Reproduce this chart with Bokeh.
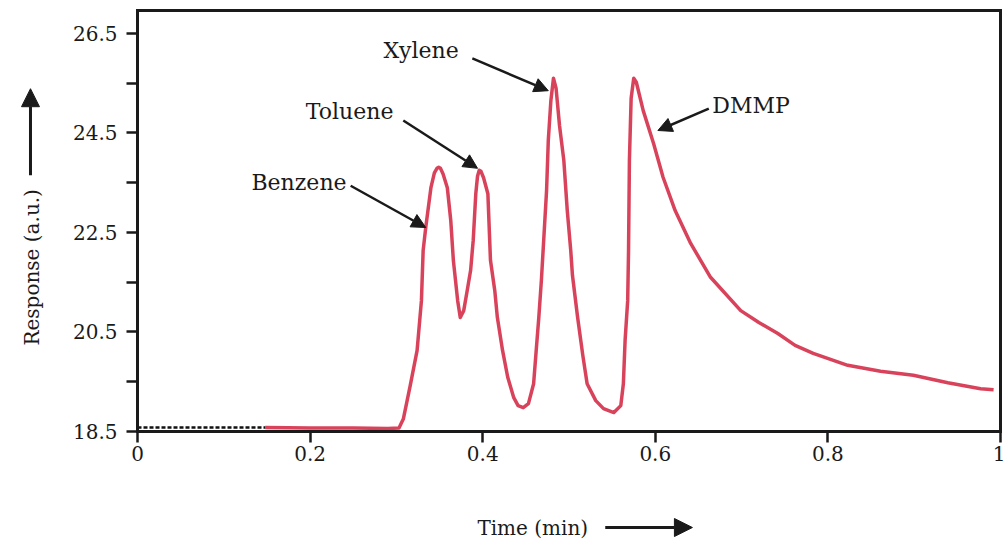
from math import pi
from bokeh.plotting import figure
from bokeh.models import Range1d, FixedTicker, Label, Arrow, NormalHead, LinearAxis
from bokeh.embed import file_html
from bokeh.resources import INLINE

# ---- data ----
# noisy baseline recorded before the red trace starts (drawn black, dashed)
base_time = [0.000, 0.040, 0.080, 0.120, 0.148]
base_resp = [18.58, 18.58, 18.58, 18.58, 18.58]

time_min = [0.148, 0.200, 0.250, 0.290, 0.303, 0.308, 0.316, 0.324, 0.329, 0.331, 0.334,
            0.340, 0.344, 0.347, 0.349, 0.351, 0.354, 0.359, 0.363, 0.366, 0.371, 0.374,
            0.378, 0.382, 0.386, 0.389, 0.392, 0.394, 0.396, 0.398, 0.401, 0.406,
            0.409, 0.414, 0.417, 0.423, 0.429, 0.436, 0.441, 0.447, 0.453, 0.459,
            0.462, 0.465, 0.468, 0.470, 0.474, 0.476, 0.479, 0.482, 0.485, 0.489,
            0.494, 0.498, 0.502, 0.504, 0.510, 0.516, 0.521, 0.531, 0.540, 0.552,
            0.560, 0.563, 0.565, 0.568, 0.569, 0.570, 0.572, 0.575, 0.578, 0.586,
            0.598, 0.609, 0.623, 0.641, 0.664, 0.699, 0.720, 0.742, 0.762, 0.783,
            0.823, 0.861, 0.899, 0.939, 0.977, 0.992]
response = [18.58, 18.57, 18.57, 18.56, 18.57, 18.75, 19.42, 20.13, 21.13, 22.14, 22.60,
            23.40, 23.70, 23.79, 23.81, 23.79, 23.68, 23.40, 22.74, 21.94, 21.13, 20.79,
            20.93, 21.33, 21.74, 22.34, 23.28, 23.63, 23.75, 23.73, 23.60, 23.28,
            21.94, 21.33, 20.79, 20.13, 19.59, 19.18, 19.02, 18.98, 19.06, 19.46,
            20.13, 20.79, 21.54, 22.14, 23.34, 24.35, 25.15, 25.60, 25.40, 24.65,
            23.95, 22.94, 22.14, 21.64, 20.79, 20.03, 19.46, 19.12, 18.96, 18.88,
            19.02, 19.46, 20.33, 21.13, 22.14, 23.95, 25.20, 25.60, 25.52, 24.95,
            24.29, 23.61, 22.94, 22.28, 21.60, 20.93, 20.69, 20.47, 20.23, 20.07,
            19.83, 19.71, 19.63, 19.48, 19.36, 19.34]

x_ticks = [0, 0.2, 0.4, 0.6, 0.8, 1.0]
x_tick_labels = ["0", "0.2", "0.4", "0.6", "0.8", "1"]
y_ticks = [18.5, 20.5, 22.5, 24.5, 26.5]
y_tick_labels = ["18.5", "20.5", "22.5", "24.5", "26.5"]
y_minor_ticks = [19.5, 21.5, 23.5, 25.5]

peak_names = ["Benzene", "Toluene", "Xylene", "DMMP"]

X_MIN, X_MAX = 0.0, 1.0
Y_MIN, Y_MAX = 18.5, 26.96

FONT = "DejaVu Serif"
INK = "#1a1a1a"

# the frame spans the whole canvas; axes are drawn at fixed data locations
p = figure(width=1005, height=550, frame_width=1005, frame_height=550,
           min_border=0,
           x_range=Range1d(-0.15875, 1.00579), y_range=Range1d(16.108, 27.163),
           output_backend="svg", toolbar_location=None)

p.grid.visible = False
p.background_fill_color = "white"
p.border_fill_color = "white"
p.outline_line_color = None

p.xaxis.ticker = FixedTicker(ticks=x_ticks)
p.xaxis.major_label_overrides = dict(zip(x_ticks, x_tick_labels))
p.xaxis.fixed_location = Y_MIN
p.xaxis.bounds = (X_MIN, X_MAX)
p.yaxis.ticker = FixedTicker(ticks=y_ticks, minor_ticks=y_minor_ticks)
p.yaxis.major_label_overrides = dict(zip(y_ticks, y_tick_labels))
p.yaxis.fixed_location = X_MIN
p.yaxis.bounds = (Y_MIN, Y_MAX)

for ax in (p.xaxis, p.yaxis):
    ax.axis_line_width = 3
    ax.axis_line_color = INK
    ax.axis_line_cap = "square"
    ax.major_tick_line_color = INK
    ax.major_tick_line_width = 2.5
    ax.major_tick_out = 11
    ax.major_tick_in = 0
    ax.minor_tick_line_color = INK
    ax.minor_tick_line_width = 2.5
    ax.minor_tick_out = 11
    ax.minor_tick_in = 0
    ax.major_label_text_font = FONT
    ax.major_label_text_font_size = "20px"
    ax.major_label_text_color = INK
p.xaxis.minor_tick_line_color = None
p.xaxis.major_label_standoff = 4
p.yaxis.major_label_standoff = 9

# closing top and right sides of the box
top_axis = LinearAxis(fixed_location=Y_MAX, bounds=(X_MIN, X_MAX),
                      ticker=FixedTicker(ticks=[]), axis_line_width=3,
                      axis_line_color=INK, axis_line_cap="square",
                      major_tick_line_color=None, minor_tick_line_color=None,
                      major_label_text_color=None)
right_axis = LinearAxis(fixed_location=X_MAX, bounds=(Y_MIN, Y_MAX),
                        ticker=FixedTicker(ticks=[]), axis_line_width=3,
                        axis_line_color=INK, axis_line_cap="square",
                        major_tick_line_color=None, minor_tick_line_color=None,
                        major_label_text_color=None)
p.add_layout(top_axis, "above")
p.add_layout(right_axis, "right")

# trace
p.line(time_min, response, line_color="#d8435b", line_width=3.5, line_join="round")
p.line(base_time, base_resp, line_color="#111111", line_width=2.5, line_dash="4 2")

# peak annotations
label_pos = [(0.132, 23.5), (0.195, 24.93), (0.285, 26.16), (0.666, 25.05)]
arrow_pos = [((0.247, 23.44), (0.334, 22.60)),
             ((0.308, 24.75), (0.394, 23.79)),
             ((0.388, 26.00), (0.476, 25.35)),
             ((0.662, 24.99), (0.603, 24.55))]
for name, (lx, ly), ((x0, y0), (x1, y1)) in zip(peak_names, label_pos, arrow_pos):
    p.add_layout(Label(x=lx, y=ly, text=name, text_font=FONT, text_font_size="22px",
                       text_color=INK, text_align="left", text_baseline="middle"))
    p.add_layout(Arrow(x_start=x0, y_start=y0, x_end=x1, y_end=y1,
                       line_color=INK, line_width=2.5,
                       end=NormalHead(size=14, fill_color=INK, line_color=INK)))

# axis titles with arrows
p.add_layout(Label(x=-0.1217, y=21.80, text="Response (a.u.)", angle=pi / 2,
                   text_font=FONT, text_font_size="20px", text_color=INK,
                   text_align="center", text_baseline="middle"))
p.add_layout(Arrow(x_start=-0.124, y_start=23.65, x_end=-0.124, y_end=25.39,
                   line_color=INK, line_width=3,
                   end=NormalHead(size=18, fill_color=INK, line_color=INK)))
p.add_layout(Label(x=0.458, y=16.57, text="Time (min)",
                   text_font=FONT, text_font_size="20px", text_color=INK,
                   text_align="center", text_baseline="middle"))
p.add_layout(Arrow(x_start=0.542, y_start=16.57, x_end=0.643, y_end=16.57,
                   line_color=INK, line_width=3,
                   end=NormalHead(size=18, fill_color=INK, line_color=INK)))

open("out.html", "w").write(file_html(p, INLINE))
